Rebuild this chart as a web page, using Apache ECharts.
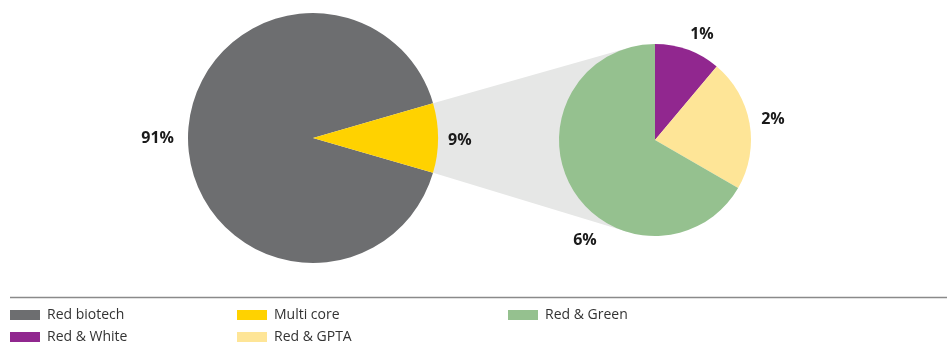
<!DOCTYPE html>
<html><head><meta charset="utf-8">
<script src="https://cdn.jsdelivr.net/npm/echarts@6/dist/echarts.min.js"></script>
<style>html,body{margin:0;padding:0;background:#fff}#c{width:947px;height:342px}</style>
</head><body><div id="c"></div>
<script>
const mainNames = ['Red biotech', 'Multi core'];
const mainValues = [91, 9];
const subNames = ['Red & White', 'Red & GPTA', 'Red & Green'];
const subValues = [1, 2, 6];
const colors = {
  'Red biotech': '#6d6e70', 'Multi core': '#ffd200',
  'Red & White': '#91278f', 'Red & GPTA': '#fee597', 'Red & Green': '#95c18f'
};

const MC = [313, 138], MR = 125;
const SC = [655, 140], SR = 96;
const total = mainValues.reduce((a, b) => a + b, 0);
const half = mainValues[1] / total * 180;
const startMain = -half;

const rad = half * Math.PI / 180;
const P1 = [MC[0] + MR * Math.cos(rad), MC[1] - MR * Math.sin(rad)];
const P2 = [MC[0] + MR * Math.cos(rad), MC[1] + MR * Math.sin(rad)];
function tangent(P, sign) {
  const dx = P[0] - SC[0], dy = P[1] - SC[1];
  const d = Math.hypot(dx, dy);
  const a = Math.atan2(dy, dx) + sign * Math.acos(SR / d);
  return [SC[0] + SR * Math.cos(a), SC[1] + SR * Math.sin(a)];
}
const T1 = tangent(P1, 1), T2 = tangent(P2, -1);

const labelFont = { fontFamily: 'Open Sans', fontWeight: 'bold', fontSize: 16, color: '#1a1a1a' };
const mainLabelPos = [{ x: 174, y: 138, align: 'right' }, { x: 448, y: 140, align: 'left' }];
const subLabelPos = [{ x: 702, y: 34, align: 'center' }, { x: 773, y: 119, align: 'center' }, { x: 585, y: 240, align: 'center' }];

const chart = echarts.init(document.getElementById('c'));
const legendCommon = {
  orient: 'vertical', top: 306, height: 60, itemWidth: 30, itemHeight: 10, itemGap: 4,
  icon: 'rect', selectedMode: false, padding: 0,
  textStyle: { fontFamily: 'Open Sans', fontSize: 14, lineHeight: 18, color: '#333', padding: [0, 0, 0, 2] }
};
chart.setOption({
  animation: false,
  legend: [
    Object.assign({ left: 10, data: ['Red biotech', 'Red & White'] }, legendCommon),
    Object.assign({ left: 237, data: ['Multi core', 'Red & GPTA'] }, legendCommon),
    Object.assign({ left: 508, data: ['Red & Green'] }, legendCommon)
  ],
  graphic: [
    { type: 'polygon', z: 0, shape: { points: [P1, T1, SC, T2, P2] }, style: { fill: '#e6e7e6' } },
    { type: 'line', z: 0, shape: { x1: 10, y1: 297.5, x2: 947, y2: 297.5 }, style: { stroke: '#8a8a8a', lineWidth: 1.5 } }
  ],
  series: [
    {
      type: 'pie', z: 3, center: MC, radius: MR, startAngle: startMain, clockwise: true,
      silent: true,
      data: mainNames.map((n, i) => ({ name: n, value: mainValues[i], itemStyle: { color: colors[n] } })),
      label: Object.assign({ show: true, position: 'outside', formatter: '{c}%' }, labelFont),
      labelLine: { show: false },
      labelLayout: p => Object.assign({ verticalAlign: 'middle' }, mainLabelPos[p.dataIndex])
    },
    {
      type: 'pie', z: 3, center: SC, radius: SR, startAngle: 90, clockwise: true,
      silent: true,
      data: subNames.map((n, i) => ({ name: n, value: subValues[i], itemStyle: { color: colors[n] } })),
      label: Object.assign({ show: true, position: 'outside', formatter: '{c}%' }, labelFont),
      labelLine: { show: false },
      labelLayout: p => Object.assign({ verticalAlign: 'middle' }, subLabelPos[p.dataIndex])
    }
  ]
});
</script></body></html>
